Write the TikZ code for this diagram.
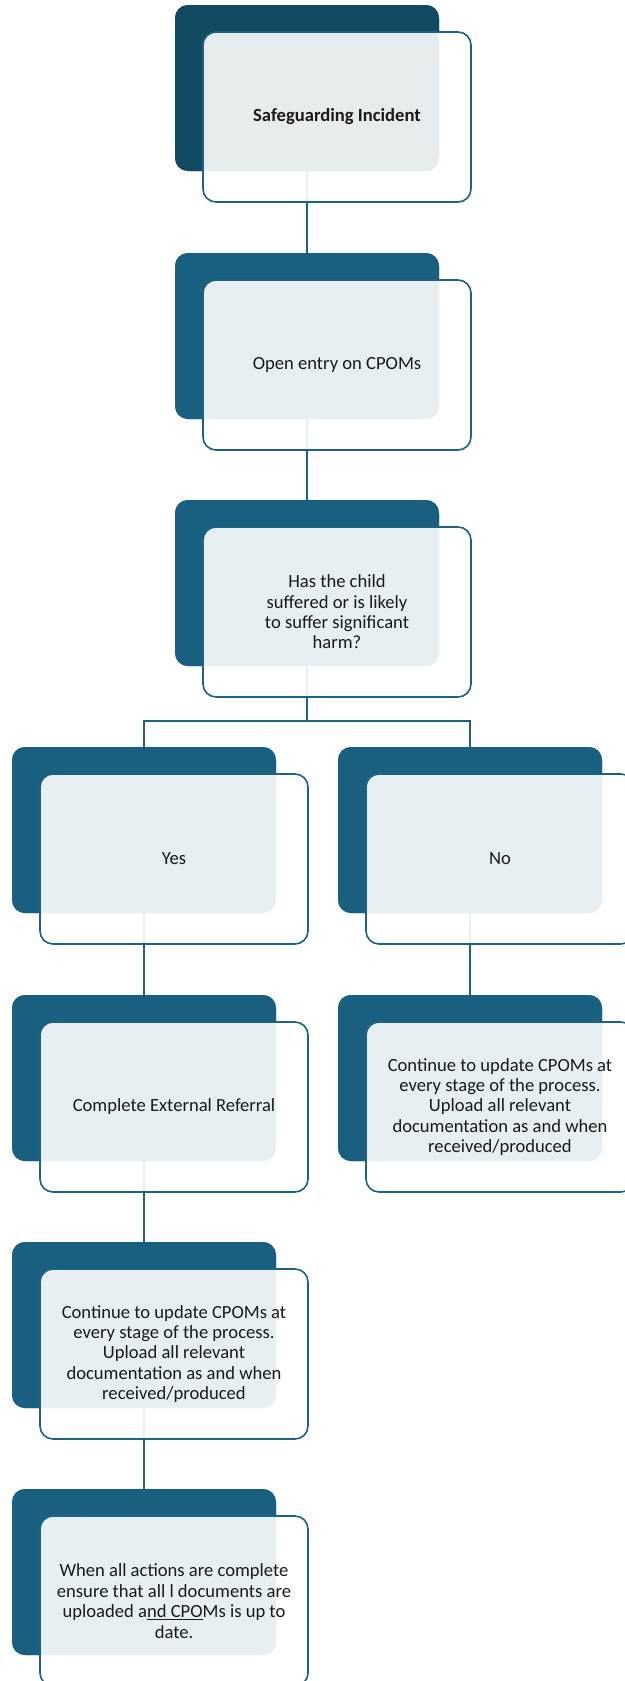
\documentclass[tikz,border=0pt]{standalone}
\usepackage{fontspec}
\setmainfont{Carlito}
\definecolor{darkA}{HTML}{134A63}
\definecolor{darkB}{HTML}{185F80}
\definecolor{edgeC}{HTML}{1B6283}
\definecolor{txt}{HTML}{1A1A1A}
\tikzset{
  backbox/.style={rectangle, rounded corners=13pt, fill=darkB, minimum width=264pt, minimum height=166pt, anchor=north west, inner sep=0pt, outer sep=0pt},
  frontbox/.style={rectangle, rounded corners=13pt, draw=edgeC, line width=1.6pt, fill=white, fill opacity=0.9, text opacity=1, text=txt, minimum width=268pt, minimum height=170pt, anchor=north west, inner sep=0pt, outer sep=0pt, align=center, font=\fontsize{18.6}{20.4}\selectfont},
  link/.style={draw=edgeC, line width=1.8pt}
}
\begin{document}
\begin{tikzpicture}[x=1pt,y=-1pt]
\useasboundingbox (0,0) rectangle (624,1681);
% back boxes
\node[backbox, fill=darkA] (d1) at (175,5) {};
\node[backbox] (d2) at (175,253) {};
\node[backbox] (d3) at (175,500) {};
\node[backbox] (d4) at (12,747) {};
\node[backbox] (d5) at (338,747) {};
\node[backbox] (d6) at (12,995) {};
\node[backbox] (d7) at (338,995) {};
\node[backbox] (d8) at (12,1242) {};
\node[backbox] (d9) at (12,1489) {};
% connectors
\coordinate (br) at (307,721);
\draw[link] (d1.south) -- (d2.north);
\draw[link] (d2.south) -- (d3.north);
\draw[link] (d3.south) -- (br);
\draw[link] (br) -| (d4.north);
\draw[link] (br) -| (d5.north);
\draw[link] (d4.south) -- (d6.north);
\draw[link] (d5.south) -- (d7.north);
\draw[link] (d6.south) -- (d8.north);
\draw[link] (d8.south) -- (d9.north);
% redraw back boxes over connectors
\foreach \n/\c in {d1/darkA,d2/darkB,d3/darkB,d4/darkB,d5/darkB,d6/darkB,d7/darkB,d8/darkB,d9/darkB}{
  \fill[\c, rounded corners=13pt] (\n.north west) rectangle (\n.south east);
}
% front boxes
\node[frontbox] (f1) at (203,32) {\textbf{Safeguarding Incident}};
\node[frontbox] (f2) at (203,280) {Open entry on CPOMs};
\node[frontbox] (f3) at (203,527) {Has the child\\suffered or is likely\\to suffer significant\\harm?};
\node[frontbox] (f4) at (40,774) {Yes};
\node[frontbox] (f5) at (366,774) {No};
\node[frontbox] (f6) at (40,1022) {Complete External Referral};
\node[frontbox] (f7) at (366,1022) {Continue to update CPOMs at\\every stage of the process.\\Upload all relevant\\documentation as and when\\received/produced};
\node[frontbox] (f8) at (40,1269) {Continue to update CPOMs at\\every stage of the process.\\Upload all relevant\\documentation as and when\\received/produced};
\node[frontbox] (f9) at (40,1516) {When all actions are complete\\ensure that all l documents are\\uploaded a\underline{nd CPO}Ms is up to\\date.};
\end{tikzpicture}
\end{document}
